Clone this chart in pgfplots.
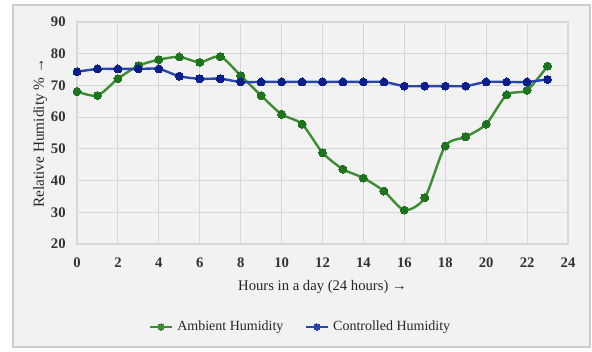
\documentclass[border=0pt]{standalone}
\usepackage{fontspec}
\setmainfont{Liberation Serif}
\usepackage{pgfplots}
\pgfplotsset{compat=1.18}
\definecolor{bgc}{RGB}{242,242,242}
\definecolor{brd}{RGB}{205,205,205}
\definecolor{gridc}{RGB}{215,215,215}
\definecolor{gline}{RGB}{60,140,50}
\definecolor{gmark}{RGB}{30,115,30}
\definecolor{bline}{RGB}{40,70,170}
\definecolor{bmark}{RGB}{10,30,140}
\begin{document}
\begin{tikzpicture}
\useasboundingbox (0pt,0pt) rectangle (444pt,263.25pt);
\fill[white] (0pt,0pt) rectangle (444pt,263.25pt);
\filldraw[fill=bgc,draw=brd,line width=0.8pt] (9.75pt,3pt) rectangle (442.5pt,259.5pt);
\begin{axis}[
  at={(57.75pt,80.25pt)}, anchor=south west,
  scale only axis, width=368.25pt, height=166.5pt,
  xmin=0, xmax=24, ymin=20, ymax=90,
  xtick={0,2,...,24}, ytick={20,30,...,90},
  grid=major, major grid style={gridc, line width=0.8pt},
  axis line style={gridc, line width=0.8pt},
  tick style={draw=none},
  ticklabel style={font=\fontsize{11}{12}\selectfont\bfseries, text=black!80},
  xticklabel style={yshift=-7pt},
  yticklabel style={xshift=-5pt},
  /pgf/number format/assume math mode=true,
  xlabel={Hours in a day (24 hours) →},
  ylabel={Relative Humidity \% →},
  xlabel style={font=\fontsize{11}{12}\selectfont, text=black!85, at={(axis description cs:0.5,-0.194)}, anchor=center},
  ylabel style={font=\fontsize{11.5}{12}\selectfont, text=black!85, at={(axis description cs:-0.075,0.5)}, anchor=center},
  legend columns=2,
  legend style={at={(axis description cs:0.456,-0.374)}, anchor=center, draw=none, fill=none,
    font=\fontsize{10.5}{12}\selectfont, text=black!85,
    /tikz/every odd column/.append style={column sep=1pt},
    /tikz/every even column/.append style={column sep=14pt}},
  legend image code/.code={\draw[#1,mark=none] (0pt,0pt) -- (16.5pt,0pt);
    \draw[#1] plot[mark=*, mark size=2.3pt, mark options={line width=0pt}] coordinates {(8.25pt,0pt)};},
]
\addplot[gline, line width=1.8pt, smooth, tension=0.45, mark=*, mark size=3pt,
  mark options={fill=gmark, draw=gmark, line width=0pt}] coordinates {
(0,68.1) (1,66.8) (2,72.1) (3,76.2) (4,78.1) (5,79.0) (6,77.3) (7,79.1) (8,73.1) (9,66.8)
(10,60.9) (11,57.8) (12,48.8) (13,43.6) (14,40.8) (15,36.7) (16,30.7) (17,34.6) (18,50.9)
(19,53.8) (20,57.8) (21,67.0) (22,68.5) (23,76.1)};
\addlegendentry{Ambient Humidity}
\addplot[bline, line width=1.8pt, smooth, tension=0.45, mark=*, mark size=3pt,
  mark options={fill=bmark, draw=bmark, line width=0pt}] coordinates {
(0,74.3) (1,75.2) (2,75.2) (3,75.2) (4,75.2) (5,72.9) (6,72.1) (7,72.1) (8,71.1) (9,71.1)
(10,71.1) (11,71.1) (12,71.1) (13,71.1) (14,71.1) (15,71.1) (16,69.8) (17,69.8) (18,69.8)
(19,69.8) (20,71.1) (21,71.1) (22,71.1) (23,71.9)};
\addlegendentry{Controlled Humidity}
\end{axis}
\end{tikzpicture}
\end{document}
